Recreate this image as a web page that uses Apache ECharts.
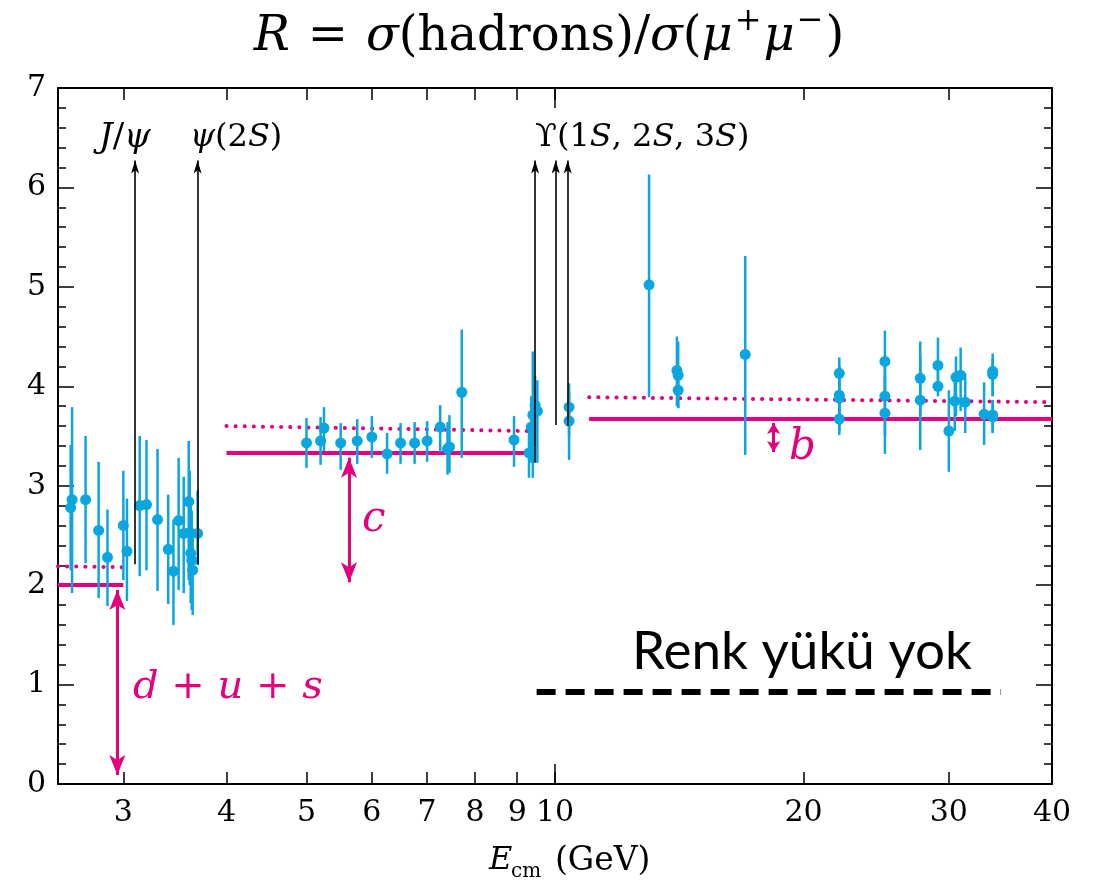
<!DOCTYPE html>
<html>
<head>
<meta charset="utf-8">
<script src="https://cdn.jsdelivr.net/npm/echarts@6/dist/echarts.min.js"></script>
<style>
  html, body { margin: 0; padding: 0; background: #fff; }
  #chart { width: 1099px; height: 892px; }
</style>
</head>
<body>
<div id="chart"></div>
<script>
// measured points: energy (GeV), R, and the two ends of each error bar
const energy = [2.59, 2.60, 2.70, 2.80, 2.87, 3.00, 3.03, 3.14, 3.20, 3.30, 3.40, 3.45, 3.50, 3.55, 3.60, 3.61, 3.62, 3.63, 3.64, 3.69,
  5.00, 5.20, 5.25, 5.50, 5.76, 6.00, 6.26, 6.50, 6.76, 7.00, 7.26, 7.41, 7.45, 7.71, 8.92, 9.30, 9.36, 9.40, 9.46, 9.52, 10.40, 10.40,
  13.0, 14.05, 14.1, 14.1, 17.0, 22.1, 22.1, 22.1, 22.1, 25.1, 25.1, 25.1, 27.7, 27.7, 29.1, 29.1, 30.0, 30.5, 30.6, 31.0, 31.4, 33.1, 33.9, 33.9, 33.9, 33.9];
const ratio = [2.78, 2.86, 2.86, 2.55, 2.28, 2.60, 2.34, 2.80, 2.81, 2.66, 2.36, 2.14, 2.65, 2.52, 2.84, 2.53, 2.32, 2.25, 2.15, 2.52,
  3.43, 3.45, 3.58, 3.43, 3.45, 3.49, 3.32, 3.43, 3.43, 3.45, 3.59, 3.37, 3.39, 3.94, 3.46, 3.33, 3.59, 3.71, 3.81, 3.75, 3.79, 3.65,
  5.02, 4.16, 4.11, 3.96, 4.32, 4.13, 3.91, 3.88, 3.67, 4.25, 3.90, 3.73, 4.08, 3.86, 4.21, 4.00, 3.55, 3.85, 4.09, 4.11, 3.84, 3.72, 3.71, 3.69, 4.15, 4.12];
const ratioLow = [2.15, 1.92, 2.22, 1.87, 1.79, 2.05, 1.84, 2.09, 2.15, 1.94, 1.81, 1.60, 1.95, 1.92, 2.05, 2.00, 1.82, 1.75, 1.70, 2.20,
  3.18, 3.21, 3.35, 3.16, 3.22, 3.28, 3.12, 3.22, 3.22, 3.24, 3.34, 3.11, 3.13, 3.28, 3.19, 3.08, 3.23, 3.08, 3.40, 3.23, 3.50, 3.26,
  3.89, 3.80, 3.78, 3.78, 3.31, 3.85, 3.60, 3.55, 3.51, 3.95, 3.50, 3.32, 3.70, 3.36, 3.95, 3.90, 3.14, 3.55, 3.70, 3.75, 3.53, 3.41, 3.53, 3.53, 3.90, 3.90];
const ratioHigh = [3.41, 3.79, 3.50, 3.24, 2.76, 3.15, 2.87, 3.50, 3.46, 3.37, 2.91, 2.66, 3.28, 3.09, 3.45, 3.15, 2.85, 2.75, 2.55, 2.95,
  3.68, 3.69, 3.79, 3.63, 3.67, 3.70, 3.53, 3.63, 3.64, 3.65, 3.81, 3.64, 3.71, 4.57, 3.70, 3.63, 3.90, 4.35, 4.10, 4.06, 4.03, 3.95,
  6.13, 4.50, 4.45, 4.20, 5.31, 4.29, 4.20, 4.20, 3.85, 4.56, 4.30, 4.10, 4.45, 4.30, 4.49, 4.15, 3.96, 4.13, 4.30, 4.39, 4.13, 4.04, 3.86, 3.86, 4.33, 4.28];

// parton-model steps (solid) and with the QCD correction (dotted)
const stepStart = [2.5, 4.0, 11.0];
const stepEnd = [3.0, 9.25, 40];
const stepR = [2.0, 3.33, 3.67];
const qcdStartR = [2.19, 3.60, 3.89];
const qcdEndR = [2.18, 3.55, 3.84];

// narrow resonances
const resonanceE = [3.10, 3.69, 9.46, 10.02, 10.36];
const resonanceBase = [2.21, 2.21, 3.23, 3.61, 3.60];
const resonanceTop = 6.27;

// double arrows showing each step
const stepArrowE = [2.95, 5.63, 18.4];
const stepArrowLow = [0.09, 2.03, 3.34];
const stepArrowHigh = [1.95, 3.28, 3.63];

// "no colour charge" level
const colourlessE = [9.5, 34.7];
const colourlessR = 0.93;

const xTicks = [3, 4, 5, 6, 7, 8, 9, 10, 20, 30, 40];
const decadeTick = 10;

const blue = '#09a6e0';
const pink = '#e5007d';
const serif = '"DejaVu Serif", "Liberation Serif", serif';

const chart = echarts.init(document.getElementById('chart'));

const points = energy.map((e, i) => [e, ratio[i]]);
const bars = energy.map((e, i) => [e, ratioLow[i], ratioHigh[i]]);
const solidSteps = stepStart.map((s, i) => ({ coords: [[s, stepR[i]], [stepEnd[i], stepR[i]]] }));
const dottedSteps = stepStart.map((s, i) => ({ coords: [[s, qcdStartR[i]], [stepEnd[i], qcdEndR[i]]] }));
const resonances = resonanceE.map((e, i) => ({ coords: [[e, resonanceBase[i]], [e, resonanceTop]] }));
const headSizes = [[[12, 20], [12, 20]], [[12, 20], [12, 20]], [[10, 11], [10, 11]]];
const stepArrows = stepArrowE.map((e, i) => ({
  coords: [[e, stepArrowLow[i]], [e, stepArrowHigh[i]]],
  symbolSize: headSizes[i]
}));
// longer tick marks at the decade, bottom and top
const decadeTicks = [
  { coords: [[decadeTick, 0], [decadeTick, 0.2]] },
  { coords: [[decadeTick, 7], [decadeTick, 6.8]] }
];

function xAxisDef(pos, labels) {
  return {
    type: 'log', logBase: 10, min: 2.5, max: 40, position: pos,
    axisLine: { show: true, onZero: false, lineStyle: { color: '#000', width: 2 } },
    axisTick: { show: true, inside: true, length: 12, customValues: xTicks.slice(), lineStyle: { color: '#000', width: 1.5 } },
    axisLabel: labels ? { customValues: xTicks.slice(), formatter: v => String(Math.round(v)), color: '#000',
      fontFamily: serif, fontSize: 30, margin: 14 } : { show: false },
    splitLine: { show: false }, minorTick: { show: false }
  };
}

function yAxisDef(pos, labels) {
  return {
    type: 'value', min: 0, max: 7, interval: 1, position: pos,
    axisLine: { show: true, lineStyle: { color: '#000', width: 2 } },
    axisTick: { inside: true, length: 16, lineStyle: { color: '#000', width: 1.5 } },
    minorTick: { show: true, splitNumber: 5, length: 8, lineStyle: { color: '#000', width: 1.5 } },
    axisLabel: labels ? { color: '#000', fontFamily: serif, fontSize: 30, margin: 12 } : { show: false },
    splitLine: { show: false }, minorSplitLine: { show: false }
  };
}

const italic = { fontStyle: 'italic', fontFamily: serif };

const option = {
  animation: false,
  backgroundColor: '#fff',
  grid: { left: 58, right: 47, top: 88, bottom: 108 },
  xAxis: [xAxisDef('bottom', true), xAxisDef('top', false)],
  yAxis: [yAxisDef('left', true), yAxisDef('right', false)],
  graphic: [
    { type: 'text', x: 549, y: 38, z: 10, style: {
      text: '{i|R}{op|=}{i|σ}{n|(hadrons)/}{i|σ}{n|(}{i|μ}{sup|+}{i|μ}{sup|−}{n|)}', textAlign: 'center', textVerticalAlign: 'middle',
      font: '48px ' + serif, fill: '#000',
      rich: {
        i: Object.assign({ fontSize: 48, lineHeight: 64 }, italic),
        n: { fontSize: 48, lineHeight: 64, fontFamily: serif },
        op: { fontSize: 48, lineHeight: 64, fontFamily: serif, padding: [0, 18, 0, 18] },
        sup: { fontSize: 32, lineHeight: 36, fontFamily: serif, verticalAlign: 'top', padding: [0, 2, 0, 2] }
      } } },
    { type: 'text', x: 489, y: 861, z: 10, style: { text: 'E', font: 'italic 32px ' + serif, fill: '#000', textVerticalAlign: 'middle' } },
    { type: 'text', x: 511, y: 872, z: 10, style: { text: 'cm', font: '20px ' + serif, fill: '#000', textVerticalAlign: 'middle' } },
    { type: 'text', x: 555, y: 861, z: 10, style: { text: '(GeV)', font: '33px ' + serif, fill: '#000', textVerticalAlign: 'middle' } },
    { type: 'text', x: 99, y: 138, z: 10, style: { text: '{i|J}/{i|ψ}', font: '34px ' + serif, fill: '#000', textVerticalAlign: 'middle',
      rich: { i: Object.assign({ fontSize: 34 }, italic) } } },
    { type: 'text', x: 190, y: 138, z: 10, style: { text: '{i|ψ}(2{i|S})', font: '32px ' + serif, fill: '#000', textVerticalAlign: 'middle',
      rich: { i: Object.assign({ fontSize: 32 }, italic) } } },
    { type: 'text', x: 535, y: 138, z: 10, style: { text: 'ϒ(1{i|S}, 2{i|S}, 3{i|S})', font: '32px ' + serif, fill: '#000', textVerticalAlign: 'middle',
      rich: { i: Object.assign({ fontSize: 32 }, italic) } } },
    { type: 'text', x: 133, y: 688, z: 10, style: { text: '{i|d} + {i|u} + {i|s}', font: '40px ' + serif, fill: pink, textVerticalAlign: 'middle',
      rich: { i: Object.assign({ fontSize: 40 }, italic) } } },
    { type: 'text', x: 362, y: 520, z: 10, style: { text: 'c', font: 'italic 42px ' + serif, fill: pink, textVerticalAlign: 'middle' } },
    { type: 'text', x: 789, y: 448, z: 10, style: { text: 'b', font: 'italic 42px ' + serif, fill: pink, textVerticalAlign: 'middle' } },
    { type: 'text', x: 632, y: 652, z: 10, style: { text: 'Renk yükü yok', font: '53px Lato, "Open Sans", sans-serif', fill: '#000', textVerticalAlign: 'middle' } }
  ],
  series: [
    {
      type: 'lines', coordinateSystem: 'cartesian2d', z: 2, silent: true,
      data: solidSteps, symbol: 'none',
      lineStyle: { color: pink, width: 4, opacity: 1 }
    },
    {
      type: 'lines', coordinateSystem: 'cartesian2d', z: 2, silent: true,
      data: dottedSteps, symbol: 'none',
      lineStyle: { color: pink, width: 4, opacity: 1, type: [0.1, 9], cap: 'round' }
    },
    {
      type: 'lines', coordinateSystem: 'cartesian2d', z: 2, silent: true,
      data: stepArrows, symbol: ['arrow', 'arrow'], symbolSize: [[12, 20], [12, 20]],
      lineStyle: { color: pink, width: 3, opacity: 1 }
    },
    {
      type: 'lines', coordinateSystem: 'cartesian2d', z: 2, silent: true,
      data: [{ coords: [[colourlessE[0], colourlessR], [colourlessE[1], colourlessR]] }], symbol: 'none',
      lineStyle: { color: '#000', width: 6, opacity: 1, type: [19, 10] }
    },
    {
      type: 'lines', coordinateSystem: 'cartesian2d', z: 2, silent: true,
      data: decadeTicks, symbol: 'none',
      lineStyle: { color: '#000', width: 1.5, opacity: 1 }
    },
    {
      type: 'custom', z: 3, silent: true,
      data: bars,
      encode: { x: 0, y: [1, 2] },
      renderItem: function (params, api) {
        const lo = api.coord([api.value(0), api.value(1)]);
        const hi = api.coord([api.value(0), api.value(2)]);
        return { type: 'line', shape: { x1: lo[0], y1: lo[1], x2: hi[0], y2: hi[1] },
          style: { stroke: blue, lineWidth: 2.5 } };
      }
    },
    {
      type: 'scatter', z: 3, silent: true,
      data: points, symbol: 'circle', symbolSize: 11,
      itemStyle: { color: blue, opacity: 1 }
    },
    {
      type: 'lines', coordinateSystem: 'cartesian2d', z: 4, silent: true,
      data: resonances, symbol: ['none', 'arrow'], symbolSize: [[6, 13], [6, 13]],
      lineStyle: { color: '#000', width: 1.6, opacity: 1 }
    }
  ]
};

chart.setOption(option);
window.addEventListener('resize', function () {
  chart.resize();
});
</script>
</body>
</html>
